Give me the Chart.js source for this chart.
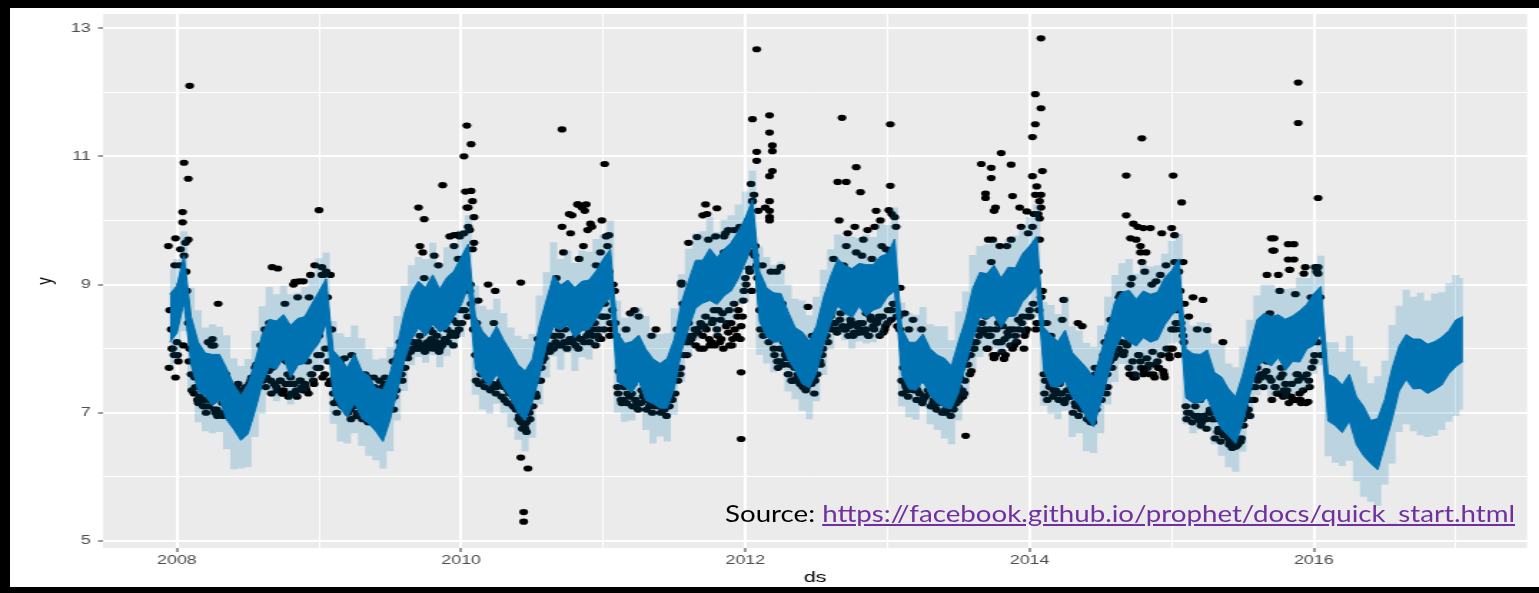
<!DOCTYPE html>
<html><head><meta charset="utf-8">
<script src="https://cdn.jsdelivr.net/npm/chart.js@4.4.1/dist/chart.umd.min.js"></script>
<style>
html,body{margin:0;padding:0;background:#fff;width:1539px;height:593px;overflow:hidden;}
#wrap{position:absolute;left:0;top:0;width:1076px;height:593px;transform:scaleX(1.4303);transform-origin:0 0;}
#c{display:block;}
.bar{position:absolute;background:#000;}
#src{position:absolute;left:725px;top:501px;font-family:Lato,'Liberation Sans',sans-serif;font-size:24px;line-height:1;white-space:nowrap;color:#000;transform-origin:0 0;}
#src a{color:#7030A0;text-decoration:underline;}
</style></head><body>
<div id="wrap"><canvas id="c" width="1076" height="593" style="width:1076px;height:593px"></canvas></div>
<div class="bar" style="left:0;top:0;width:1539px;height:8px"></div>
<div class="bar" style="left:0;top:0;width:10px;height:593px"></div>
<div class="bar" style="left:0;top:587px;width:1539px;height:6px"></div>
<div id="src">Source: <a href="https://facebook.github.io/prophet/docs/quick_start.html">https://facebook.github.io/prophet/docs/quick_start.html</a></div>
<script>
// ---- axis ticks ----
const xGridYears = [2008, 2009, 2010, 2011, 2012, 2013, 2014, 2015, 2016, 2017];
const xLabelYears = [2008, 2010, 2012, 2014, 2016];
const yGridValues = [5, 6, 7, 8, 9, 10, 11, 12, 13];
const yLabelValues = [5, 7, 9, 11, 13];

// ---- forecast bands: one value every 0.05 year from 2007.95 ----
const bandStart = 2007.95, bandStep = 0.05;
const darkUpper = [8.85,
 8.98,9.45,8.5,8.1,7.93,7.91,7.91,7.69,7.44,7.27,7.45,7.8,8.22,8.46,8.43,8.53,8.36,8.47,8.5,8.7,
 8.89,9.09,7.97,7.85,7.7,7.92,7.66,7.58,7.38,7.36,7.62,8.05,8.55,8.88,9.05,8.95,9.15,8.93,9.11,9.21,
 9.43,9.63,8.51,8.27,8.15,8.35,8.13,7.95,7.75,7.65,7.83,8.36,8.76,9.14,8.99,9.07,8.95,9.05,9.07,9.21,
 9.4,9.55,8.25,8.08,8.11,8.21,7.99,7.84,7.77,7.85,8.15,8.72,9.06,9.38,9.38,9.56,9.42,9.55,9.65,9.83,
 10.04,10.32,9.2,8.95,8.87,8.86,8.58,8.33,8.26,8.12,8.35,8.8,9.13,9.4,9.3,9.25,9.33,9.31,9.31,9.44,
 9.48,9.71,8.32,8.1,8.1,8.23,8.0,7.9,7.85,7.73,8.11,8.46,8.94,9.19,9.17,9.3,9.1,9.27,9.26,9.48,
 9.6,9.75,8.33,8.21,8.11,8.29,7.94,7.82,7.7,7.55,7.92,8.31,8.73,8.88,8.91,8.77,8.9,8.85,8.88,9.1,
 9.22,9.4,8.0,7.92,7.91,7.98,7.63,7.56,7.37,7.25,7.6,8.03,8.45,8.55,8.5,8.53,8.46,8.51,8.59,8.69,
 8.86,8.97,7.6,7.55,7.43,7.6,7.25,7.1,6.88,6.91,7.21,7.69,8.04,8.22,8.15,8.15,8.07,8.11,8.18,8.28,
 8.45,8.5];
const darkLower = [8.1,
 8.24,8.72,7.75,7.33,7.26,7.11,7.2,6.89,6.74,6.57,6.67,7.03,7.45,7.71,7.68,7.86,7.55,7.74,7.77,7.95,
 8.09,8.39,7.27,7.07,6.93,7.15,6.91,6.83,6.71,6.55,6.89,7.32,7.8,8.14,8.32,8.2,8.38,8.26,8.31,8.5,
 8.68,8.96,7.7,7.54,7.42,7.6,7.39,7.22,7.0,6.88,7.16,7.56,8.05,8.34,8.29,8.37,8.17,8.28,8.3,8.46,
 8.67,8.8,7.48,7.41,7.31,7.5,7.19,7.14,7.07,7.07,7.38,7.95,8.31,8.63,8.71,8.75,8.69,8.82,8.9,9.09,
 9.34,9.62,8.42,8.18,8.1,8.11,7.83,7.66,7.45,7.39,7.62,8.05,8.39,8.67,8.55,8.48,8.66,8.51,8.6,8.64,
 8.81,8.9,7.59,7.37,7.35,7.49,7.27,7.15,7.08,7.06,7.31,7.75,8.14,8.49,8.47,8.52,8.33,8.5,8.51,8.73,
 8.85,8.98,7.66,7.41,7.4,7.49,7.24,7.12,6.92,6.78,7.15,7.56,7.98,8.21,8.1,8.04,8.17,8.1,8.14,8.37,
 8.52,8.62,7.23,7.15,7.16,7.23,6.96,6.75,6.64,6.52,6.85,7.29,7.72,7.8,7.73,7.86,7.66,7.8,7.79,7.99,
 8.05,8.24,6.87,6.8,6.69,6.87,6.5,6.33,6.21,6.11,6.5,6.89,7.34,7.52,7.37,7.38,7.3,7.36,7.43,7.61,
 7.72,7.8];
const lightUpper = [9.25,
 9.4,9.83,8.95,8.6,8.33,8.38,8.34,8.21,7.85,7.73,7.84,8.28,8.66,8.96,8.85,8.98,8.85,8.87,8.96,9.13,
 9.41,9.5,8.43,8.24,8.18,8.36,8.16,8.0,7.83,7.85,8.02,8.51,8.98,9.3,9.43,9.4,9.65,9.33,9.58,9.64,
 9.85,10.08,9.0,8.67,8.61,8.78,8.55,8.33,8.2,8.15,8.23,8.83,9.19,9.66,9.4,9.53,9.34,9.53,9.51,9.71,
 9.78,10.0,8.75,8.48,8.58,8.64,8.51,8.25,8.23,8.24,8.63,9.16,9.56,9.8,9.83,10.05,9.82,10.01,10.08,10.25,
 10.45,10.78,9.59,9.43,9.31,9.36,9.0,8.78,8.75,8.52,8.81,9.23,9.55,9.78,9.75,9.75,9.73,9.78,9.74,9.96,
 9.93,10.2,8.72,8.56,8.53,8.65,8.38,8.35,8.35,8.13,8.58,8.89,9.46,9.6,9.63,9.69,9.58,9.71,9.76,9.9,
 10.05,10.25,8.73,8.68,8.54,8.81,8.35,8.28,8.09,8.03,8.36,8.81,9.15,9.33,9.4,9.17,9.36,9.28,9.3,9.48,
 9.68,9.79,8.48,8.36,8.41,8.4,8.08,8.05,7.77,7.71,8.03,8.45,8.83,9.0,9.0,8.93,8.93,8.94,9.11,9.1,
 9.31,9.45,8.1,8.1,7.95,8.2,7.81,7.72,7.46,7.57,7.81,8.37,8.67,8.92,8.81,8.87,8.75,8.86,8.88,9.02,
 9.15,9.1];
const lightLower = [7.7,
 7.84,8.27,7.33,6.85,6.71,6.68,6.7,6.43,6.12,6.13,6.15,6.62,6.98,7.28,7.18,7.41,7.13,7.25,7.33,7.49,
 7.63,7.77,6.83,6.55,6.52,6.68,6.48,6.33,6.26,6.13,6.4,6.88,7.34,7.74,7.87,7.78,7.9,7.71,7.88,8.0,
 8.18,8.51,7.28,7.05,6.98,7.14,6.99,6.77,6.58,6.4,6.61,7.13,7.55,7.88,7.67,7.93,7.65,7.87,7.83,8.03,
 8.22,8.38,7.0,6.86,6.88,7.0,6.73,6.52,6.63,6.55,6.97,7.48,7.88,8.13,8.26,8.33,8.2,8.38,8.44,8.69,
 8.72,9.18,7.9,7.77,7.63,7.68,7.33,7.21,7.03,6.9,7.18,7.59,7.99,8.22,8.13,8.0,8.11,8.08,8.1,8.18,
 8.36,8.48,7.1,6.93,6.89,7.09,6.82,6.73,6.6,6.51,6.88,7.25,7.68,7.87,8.03,8.0,7.92,8.03,8.08,8.23,
 8.43,8.5,7.11,6.98,6.9,7.03,6.62,6.68,6.4,6.37,6.68,7.13,7.48,7.76,7.68,7.55,7.73,7.64,7.74,7.92,
 8.08,8.1,6.82,6.68,6.73,6.73,6.51,6.33,6.15,6.08,6.39,6.89,7.27,7.38,7.25,7.31,7.23,7.3,7.33,7.37,
 7.61,7.74,6.32,6.22,6.17,6.25,5.93,5.69,5.61,5.55,5.88,6.21,6.7,6.82,6.71,6.65,6.62,6.64,6.73,6.86,
 6.95,7.05];

// ---- observations: one value every 0.02 year (A from 2007.94, B from 2007.95, C from 2007.945) ----
const obsStep = 0.02, obsStartA = 2007.94, obsStartB = 2007.95, obsStartC = 2007.945;
const obsA = [9.6,8.3,7.9,
 8.1,9.3,8.8,9.65,8.4, 7.6,7.3,7.9,7.25,7.45, 7.1,8.1,7.35,8.05,7.05, 7.45,7.15,7.55,7.0,7.3, 7.2,7.4,6.95,7.3,7.1,
 7.3,7.5,7.2,7.75,7.6, 7.6,8.3,7.8,7.5,8.2, 7.4,7.9,7.3,8.7,7.6, 7.55,9.0,7.35,7.85,7.4, 7.45,7.8,9.15,7.5,8.65,
 8.2,9.15,7.6,8.8,7.5, 7.3,7.7,7.15,7.5,7.85, 7.4,7.05,7.75,7.25,7.6, 7.2,7.45,7.0,7.35,7.1, 7.05,7.3,6.95,7.45,7.15,
 7.3,7.8,7.5,7.95,7.6, 8.2,7.9,8.5,8.0,8.45, 8.1,8.4,9.1,8.0,8.3, 8.25,8.05,9.3,8.35,8.1, 8.3,9.75,8.45,8.2,9.4,
 8.6,9.8,10.2,8.9,9.55, 7.9,8.75,7.6,8.1,7.55, 7.6,7.45,8.9,7.8,7.5, 7.4,7.5,7.3,7.6,7.2, 7.1,6.85,7.3,6.7,7.0,
 7.35,7.7,8.15,7.5,7.9, 8.4,8.05,8.7,8.2,8.9, 8.2,9.5,8.4,10.1,8.15, 8.3,10.25,8.15,9.6,8.4, 8.25,9.9,8.4,8.2,9.5,
 8.5,9.75,9.2,8.3,8.9, 7.4,7.8,7.2,8.3,7.5, 7.3,8.6,7.15,7.55,7.25, 7.2,7.5,8.2,7.1,7.35, 7.1,7.35,7.2,7.5,7.6,
 7.8,8.3,7.6,8.7,8.1, 8.4,8.15,8.9,8.3,8.0, 8.2,8.5,9.7,8.1,8.6, 8.3,8.1,8.55,9.8,8.25, 8.4,8.7,8.2,9.9,8.5,
 9.1,10.0,9.5,10.4,9.3, 8.6,9.3,10.2,8.4,9.2, 8.0,9.2,7.8,8.7,7.9, 7.6,8.0,7.5,7.85,7.55, 7.5,7.45,8.65,7.7,7.55,
 7.8,8.3,7.9,8.6,8.1, 8.5,9.4,8.3,10.0,8.7, 8.3,9.8,8.45,8.2,9.5, 8.4,9.45,8.25,9.85,8.5, 8.35,10.15,8.5,9.6,8.3,
 8.4,9.5,8.7,9.9,8.5, 7.5,8.55,7.35,7.8,8.45, 7.4,7.6,8.3,7.25,7.7, 7.3,7.15,7.5,7.2,7.65, 7.2,7.04,7.4,7.1,7.3,
 7.4,7.7,7.3,8.0,7.6, 8.1,8.52,8.3,8.9,8.6, 8.0,8.3,9.7,7.9,8.4, 8.1,7.84,9.6,8.3,8.0, 8.2,8.45,9.9,8.0,8.3,
 8.6,9.9,10.4,9.2,8.8, 7.6,8.4,7.4,7.8,7.3, 7.5,7.3,8.76,7.6,7.25, 7.35,7.15,8.4,7.5,7.2, 7.1,7.4,6.9,7.7,7.2,
 7.5,7.9,7.3,8.2,7.7, 8.0,8.5,8.85,7.9,8.3, 7.7,9.1,7.6,9.9,7.8, 7.6,9.5,7.75,9.0,7.55, 7.8,9.15,7.65,9.3,7.9,
 8.3,9.35,8.6,8.9,8.2, 7.1,8.5,7.3,6.95,8.3, 7.2,8.76,6.9,7.4,7.0, 6.9,7.2,6.7,8.1,7.0, 6.6,6.85,6.5,7.0,6.55,
 6.9,7.3,7.05,7.6,7.2, 7.7,8.1,7.6,8.4,7.9, 7.5,9.72,7.3,8.9,7.6, 7.45,9.63,7.25,9.39,7.6, 7.3,7.55,9.27,7.17,8.8,
 7.8,9.2,8.4];
const obsB = [8.6,8.0,7.55,
 7.8,9.0,9.45,8.9,8.0, 8.0,7.4,7.15,7.7,7.2, 7.5,7.2,8.15,7.0,7.6, 7.25,7.6,7.1,7.4,7.05, 7.0,7.45,7.15,6.9,7.35,
 7.45,7.15,7.7,7.55,8.05, 7.95,7.55,8.4,7.7,7.45, 9.25,7.5,7.35,7.8,7.45, 7.7,7.3,8.8,7.5,9.05, 7.35,8.8,7.6,9.3,7.9,
 7.9,8.6,9.2,7.45,8.3, 7.55,7.2,7.8,7.35,7.1, 7.15,7.9,7.3,7.0,7.5, 7.3,6.95,7.55,7.05,7.4, 7.25,7.0,7.4,6.9,7.2,
 7.45,7.25,7.85,8.1,7.7, 7.95,8.35,8.1,8.6,8.05, 8.2,9.5,8.05,8.45,8.15, 9.45,8.2,8.0,8.5,8.15, 8.5,8.25,9.6,8.4,9.75,
 9.4,10.45,9.9,8.7,9.65, 8.4,7.7,7.95,7.5,9.0, 7.7,8.4,7.4,7.65,7.95, 7.95,7.35,7.55,7.25,7.45, 6.95,7.2,6.75,7.05,7.4,
 7.6,7.25,8.0,7.8,8.2, 8.25,8.6,8.0,9.1,8.3, 9.9,8.3,8.1,9.8,8.45, 8.2,9.4,10.2,8.35,9.85, 9.95,8.3,9.3,8.15,8.5,
 8.7,9.6,8.4,9.0,8.2, 7.65,7.15,7.9,7.3,8.55, 7.45,7.1,8.5,7.35,7.7, 7.55,7.15,7.4,8.3,7.25, 7.3,7.05,7.45,7.25,7.7,
 8.0,7.7,9.0,8.45,7.9, 8.6,8.2,8.05,8.85,8.35, 8.35,10.1,8.05,8.45,9.75, 8.6,8.15,9.5,8.4,8.05, 8.15,9.65,8.6,8.35,8.9,
 9.8,9.2,10.3,9.6,10.15, 9.0,8.3,8.8,10.0,8.5, 8.3,7.7,9.27,8.1,7.85, 7.75,7.5,8.1,7.6,7.95, 7.6,7.4,7.8,8.2,7.5,
 8.0,7.75,8.45,8.2,8.75, 9.0,8.4,10.6,8.55,9.3, 9.6,8.35,8.6,9.9,8.25, 8.3,9.7,8.55,8.2,9.4, 9.9,8.45,10.0,8.25,9.55,
 9.3,8.6,10.05,8.35,8.95, 7.7,7.4,8.3,7.55,7.9, 7.35,7.85,7.2,7.5,7.65, 7.45,7.1,7.35,7.6,7.2, 7.05,7.35,7.15,7.45,7.25,
 7.55,7.25,7.85,8.2,7.65, 8.0,8.7,9.0,8.25,8.5, 8.2,9.35,7.85,8.1,9.6, 8.35,7.9,8.2,9.7,8.05, 8.1,10.2,8.5,8.25,9.8,
 9.5,10.1,8.4,9.7,8.9, 7.5,7.9,8.2,7.35,7.7, 7.45,8.45,7.2,7.75,7.4, 7.6,7.25,7.45,8.35,7.1, 7.3,6.85,7.5,7.05,7.35,
 7.65,8.1,7.4,8.45,7.85, 8.2,8.8,7.95,8.6,8.1, 9.0,7.55,9.7,7.9,9.35, 9.2,7.7,9.88,7.6,9.05, 7.7,9.8,7.55,9.0,8.0,
 8.8,8.4,9.2,8.3,8.7, 7.0,7.5,8.8,7.2,6.9, 6.85,7.3,8.29,7.05,7.45, 7.1,6.75,7.3,6.65,6.95, 6.53,6.7,6.47,6.9,6.6,
 7.1,7.45,6.95,7.75,7.4, 8.0,7.55,8.3,7.8,8.55, 9.53,7.4,9.15,7.7,7.35, 7.35,9.23,7.2,8.85,7.5, 7.15,9.17,7.6,7.4,8.7,
 8.6,9.27,7.9];
const obsC = [7.7,8.0,9.3,
 7.9,9.55,8.05,9.2,7.8, 7.35,7.55,7.2,7.4,7.1, 7.0,7.1,8.05,7.05,6.95, 7.0,6.95,7.6,7.1,6.9, 6.9,7.25,7.35,6.95,7.4,
 7.35,7.55,7.25,7.6,7.7, 7.5,7.4,7.65,7.3,7.45, 7.35,7.5,7.3,7.45,7.25, 7.3,7.45,7.25,7.5,7.35, 7.4,7.3,7.6,7.45,7.7,
 7.7,7.55,8.0,7.8,7.45, 7.15,7.0,7.25,7.1,7.3, 7.0,6.9,7.1,6.95,7.2, 6.9,7.6,6.85,7.0,7.55, 6.85,7.5,6.9,7.55,7.4,
 7.2,7.05,7.35,7.6,7.5, 7.7,7.85,7.95,8.1,8.0, 8.0,8.05,7.95,8.1,8.05, 8.0,8.1,7.95,8.05,8.15, 8.1,8.2,8.05,8.25,8.3,
 8.4,8.6,8.5,9.0,8.3, 7.5,7.45,7.6,7.4,7.55, 7.35,7.4,7.3,7.45,7.25, 7.2,7.15,7.3,7.1,7.05, 6.9,6.95,6.8,7.0,6.9,
 7.1,7.3,7.5,7.7,7.85, 8.0,7.95,8.2,8.1,8.05, 8.05,8.1,8.0,8.15,8.1, 8.05,8.0,8.15,8.1,8.2, 8.1,8.2,8.05,8.3,8.15,
 8.3,8.5,8.2,8.6,8.4, 7.3,7.2,7.4,7.15,7.25, 7.1,7.2,7.05,7.15,7.3, 7.05,7.1,7.0,7.15,7.1, 7.0,7.05,6.95,7.1,7.2,
 7.3,7.5,7.7,7.9,8.2, 8.1,8.2,8.3,8.25,8.4, 8.0,8.3,8.15,8.4,8.05, 8.2,8.45,8.0,8.35,8.6, 8.05,8.3,8.5,8.15,8.75,
 9.0,9.25,8.9,9.45,9.1, 8.3,8.2,8.45,8.1,8.35, 7.9,7.8,8.0,7.75,7.95, 7.6,7.5,7.7,7.55,7.45, 7.4,7.35,7.5,7.45,7.3,
 7.6,7.8,8.0,8.2,8.35, 8.3,8.4,8.25,8.45,8.35, 8.3,8.2,8.4,8.25,8.35, 8.25,8.4,8.3,8.2,8.45, 8.3,8.4,8.2,8.5,8.35,
 8.6,8.45,8.7,8.5,8.3, 7.3,7.45,7.25,7.5,7.35, 7.2,7.3,7.15,7.25,7.35, 7.1,7.2,7.05,7.15,7.0, 7.0,7.1,6.95,7.05,7.15,
 7.2,7.35,7.5,7.75,7.9, 8.0,8.1,8.2,8.4,8.3, 8.0,8.2,7.9,8.3,8.1, 7.95,8.15,8.25,8.05,8.3, 8.1,8.3,8.4,8.2,8.5,
 8.5,8.7,8.3,8.6,8.4, 7.3,7.2,7.45,7.25,7.35, 7.2,7.3,7.15,7.35,7.25, 7.0,7.1,6.95,7.05,7.15, 6.9,7.0,6.85,7.6,7.7,
 7.2,7.4,7.6,7.8,7.95, 7.9,8.0,8.1,7.95,8.05, 7.6,7.8,7.55,7.9,7.7, 7.65,7.85,7.6,7.95,7.75, 7.7,7.9,7.6,8.0,7.85,
 8.0,8.3,7.9,8.4,8.1, 6.9,7.0,6.85,7.1,6.95, 6.8,6.95,6.75,7.0,6.9, 6.6,6.7,6.55,6.65,6.8, 6.5,6.45,6.6,6.5,6.55,
 6.8,7.0,7.2,7.4,7.55, 7.5,7.6,7.4,7.65,7.55, 7.2,7.4,7.3,7.55,7.25, 7.3,7.15,7.45,7.2,7.6, 7.2,7.35,7.15,7.5,7.7,
 7.9,8.1,8.8];
// isolated observations [year, value]
const outliers = [
 [2007.99,9.72],[2008.04,10.13],[2008.04,9.97],[2008.05,10.9],[2008.08,10.65],[2008.09,12.1],[2008.08,9.7],[2008.29,8.7],
 [2008.67,9.27],[2008.83,9.04],[2008.86,9.05],[2009.0,10.16],[2009.02,9.27],[2009.03,9.15],[2009.08,9.15],
 [2009.7,10.2],[2009.74,10.02],[2009.71,9.6],[2009.87,10.55],[2009.95,9.77],[2009.98,9.78],
 [2010.02,11.0],[2010.04,11.48],[2010.07,11.19],[2010.07,10.46],[2010.05,10.2],[2010.06,9.85],[2010.08,10.3],[2010.09,10.05],
 [2010.42,9.03],[2010.43,6.75],[2010.42,6.3],[2010.47,6.13],[2010.44,5.45],[2010.44,5.3],[2010.46,6.85],
 [2010.71,11.42],[2010.78,10.08],[2010.82,10.25],[2010.88,10.25],[2010.87,10.15],[2010.99,10.0],[2011.01,10.88],[2011.04,9.77],
 [2011.55,9.03],[2011.6,9.65],[2011.66,9.74],[2011.7,10.08],[2011.72,10.25],[2011.8,10.19],[2011.85,9.75],[2011.88,9.85],[2011.92,9.85],[2011.97,7.63],[2011.97,6.59],
 [2012.08,12.67],[2012.05,11.58],[2012.17,11.64],[2012.17,11.37],[2012.08,11.07],[2012.19,11.17],[2012.19,11.08],[2012.08,10.93],[2012.19,10.77],[2012.17,10.69],[2012.04,10.57],[2012.05,10.3],[2012.17,10.3],[2012.17,10.15],[2012.17,10.05],
 [2012.68,11.6],[2012.78,10.83],[2012.71,10.6],[2012.81,10.44],[2013.02,11.5],[2013.02,10.54],[2013.01,10.16],[2013.03,10.1],
 [2013.55,6.64],
 [2013.71,9.7],[2013.8,11.05],[2013.66,10.88],[2013.73,10.82],[2013.87,10.87],[2013.73,10.66],[2013.69,10.42],[2013.69,10.35],[2013.88,10.38],[2013.76,10.2],[2013.75,10.15],[2013.98,10.14],
 [2014.08,12.84],[2014.04,11.97],[2014.08,11.75],[2014.04,11.5],[2014.02,11.3],[2014.02,10.69],[2014.09,10.77],[2014.05,10.53],[2014.08,10.4],[2014.07,10.3],[2014.08,10.2],[2014.06,10.1],[2014.07,10.03],
 [2014.68,10.7],[2014.79,11.28],[2014.68,10.08],[2014.73,9.95],[2014.8,9.88],[2014.71,9.72],[2014.78,9.6],[2014.78,9.5],[2015.01,10.7],[2015.07,10.28],[2015.0,9.88],[2015.02,9.77],[2015.08,9.35],
 [2015.89,12.15],[2015.89,11.52],[2016.03,10.35],
 [2015.7,9.72],[2015.72,9.53],[2015.86,9.63],[2015.82,9.39],[2015.83,9.23],[2015.67,9.15],[2016.01,9.27],[2016.03,9.17]
];

// ---- build library data ----
const bandPts = arr => arr.map((v, i) => ({x: bandStart + i * bandStep, y: v}));
const seriesPts = (arr, start) => arr.map((v, i) => ({x: start + i * obsStep, y: v}));
const obsPts = [].concat(
  seriesPts(obsA, obsStartA),
  seriesPts(obsB, obsStartB),
  seriesPts(obsC, obsStartC),
  outliers.map(p => ({x: p[0], y: p[1]}))
);

const panelBg = {
  id: 'panelBg',
  beforeDraw(chart) {
    const {ctx, chartArea: a} = chart;
    ctx.save();
    ctx.fillStyle = '#ffffff';
    ctx.fillRect(0, 0, chart.width, chart.height);
    ctx.fillStyle = '#EBEBEB';
    ctx.fillRect(a.left, a.top, a.right - a.left, a.bottom - a.top);
    ctx.restore();
  }
};

const tickFont = {family: "'Liberation Sans', Arial, sans-serif", size: 12.5};
const titleFont = {family: "'Liberation Sans', Arial, sans-serif", size: 15};

new Chart(document.getElementById('c'), {
  type: 'line',
  data: {
    datasets: [
      {label: 'y', data: obsPts, showLine: false, pointRadius: 3.1, pointHoverRadius: 0,
       pointBackgroundColor: '#000', pointBorderWidth: 0, order: 3},
      {label: 'yhat_hi', data: bandPts(darkUpper), borderColor: '#0072B2', borderWidth: 1, pointRadius: 0,
       fill: '+1', backgroundColor: '#0072B2', order: 2},
      {label: 'yhat_lo', data: bandPts(darkLower), borderColor: '#0072B2', borderWidth: 1, pointRadius: 0,
       fill: false, order: 2},
      {label: 'yhat_upper', data: bandPts(lightUpper), borderColor: 'rgba(0,0,0,0)', borderWidth: 1, pointRadius: 0,
       stepped: 'middle', fill: '+1', backgroundColor: 'rgba(0,114,178,0.2)', order: 1},
      {label: 'yhat_lower', data: bandPts(lightLower), borderColor: 'rgba(0,0,0,0)', borderWidth: 1, pointRadius: 0,
       stepped: 'middle', fill: false, order: 1}
    ]
  },
  options: {
    responsive: false,
    animation: false,
    devicePixelRatio: 1,
    events: [],
    layout: {padding: {top: 14, right: 8.4, left: 0, bottom: 0}},
    plugins: {legend: {display: false}, tooltip: {enabled: false}},
    scales: {
      x: {
        type: 'linear', min: 2007.48, max: 2017.5,
        afterBuildTicks: s => { s.ticks = xGridYears.map(v => ({value: v})); },
        afterFit: s => { s.height = 45; },
        border: {display: false},
        grid: {
          color: '#ffffff',
          lineWidth: c => (c.tick && xLabelYears.includes(c.tick.value)) ? 2 : 1,
          tickLength: 4,
          tickWidth: 1,
          tickColor: c => (c.tick && xLabelYears.includes(c.tick.value)) ? '#333333' : 'rgba(0,0,0,0)'
        },
        ticks: {
          autoSkip: false, maxRotation: 0, padding: 1,
          color: '#4D4D4D', font: tickFont,
          callback: v => xLabelYears.includes(v) ? String(v) : ''
        },
        title: {display: true, text: 'ds', color: '#000', font: titleFont, padding: {top: 0, bottom: 6}}
      },
      y: {
        type: 'linear', min: 4.89, max: 13.22,
        afterBuildTicks: s => { s.ticks = yGridValues.map(v => ({value: v})); },
        afterFit: s => { s.width = 72; },
        border: {display: false},
        grid: {
          color: '#ffffff',
          lineWidth: c => (c.tick && yLabelValues.includes(c.tick.value)) ? 2 : 1,
          tickLength: 3.5,
          tickWidth: 1,
          tickColor: c => (c.tick && yLabelValues.includes(c.tick.value)) ? '#333333' : 'rgba(0,0,0,0)'
        },
        ticks: {
          autoSkip: false, padding: 5,
          color: '#4D4D4D', font: tickFont,
          callback: v => yLabelValues.includes(v) ? String(v) : ''
        },
        title: {display: true, text: 'y', color: '#000', font: titleFont, padding: {top: 22.5, bottom: 0}}
      }
    }
  },
  plugins: [panelBg]
});

// fit the source line to its width in the reference
const src = document.getElementById('src');
const w = src.getBoundingClientRect().width;
src.style.transform = 'scaleX(' + (790 / w) + ')';
</script>
</body></html>
